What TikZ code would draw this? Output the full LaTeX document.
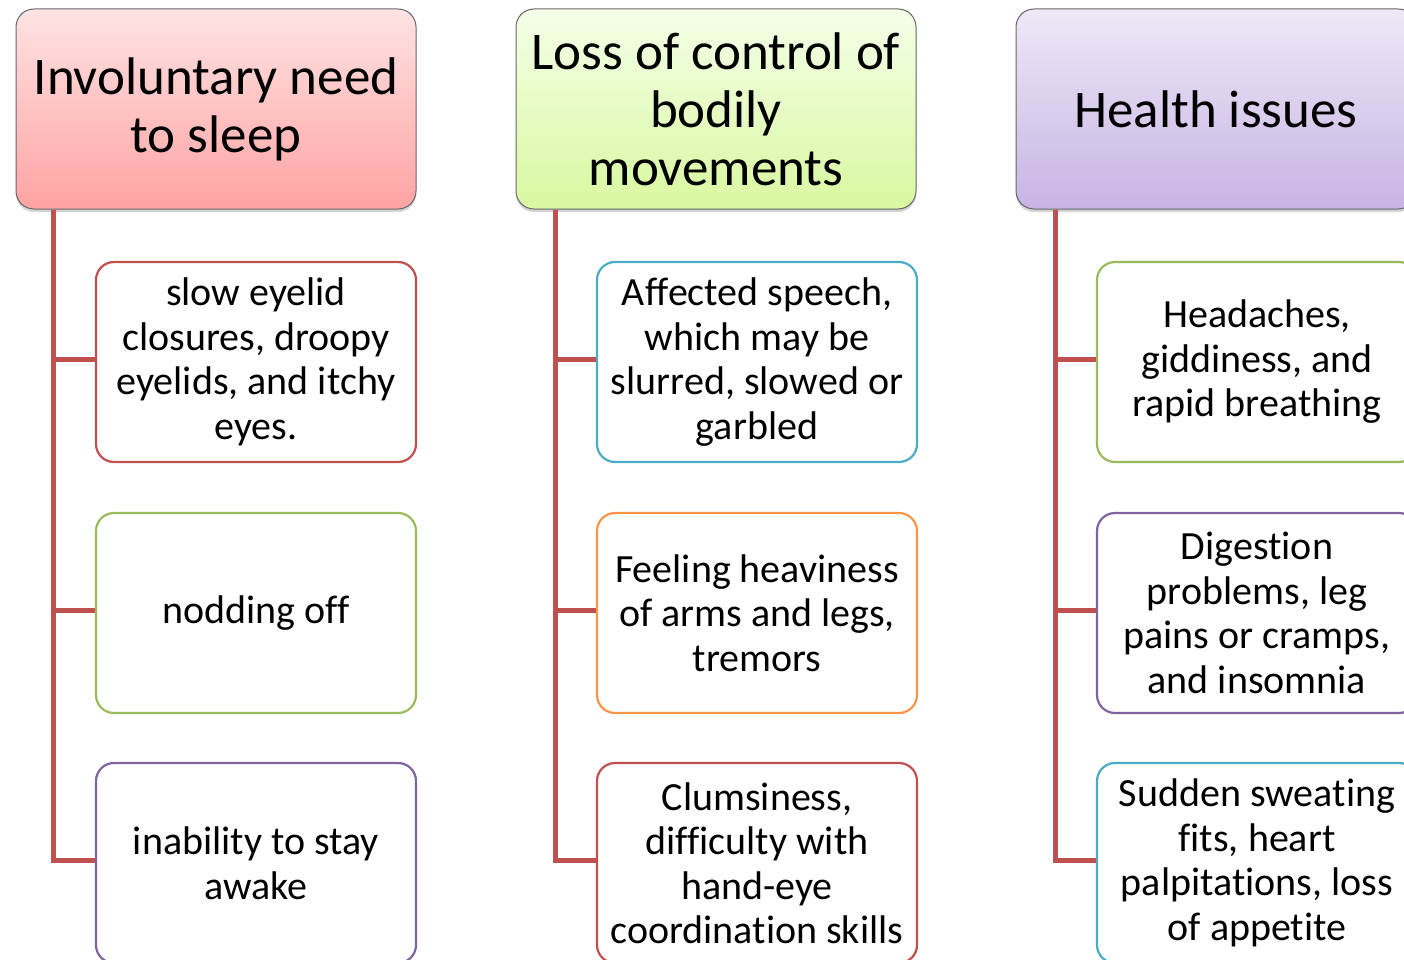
\documentclass[tikz,border=0pt]{standalone}
\usepackage{fontspec}
\setmainfont{Carlito}[Ligatures={NoCommon}]
\usetikzlibrary{shadows,calc}
\definecolor{accred}{HTML}{C0504D}
\definecolor{accgreen}{HTML}{9BBB59}
\definecolor{accpurple}{HTML}{8064A2}
\definecolor{accblue}{HTML}{4BACC6}
\definecolor{accorange}{HTML}{F79646}
\definecolor{pinktop}{HTML}{FFE3E3}
\definecolor{pinkbot}{HTML}{FFA3A3}
\definecolor{greentop}{HTML}{F4FFE8}
\definecolor{greenbot}{HTML}{D8F8A0}
\definecolor{purptop}{HTML}{EEE8F7}
\definecolor{purpbot}{HTML}{C7B4E4}
\tikzset{
  header/.style={draw=black!60, line width=1pt, rounded corners=18pt,
    minimum width=400pt, minimum height=200pt, align=center, inner sep=0pt,
    font=\fontsize{53}{58}\selectfont,
    drop shadow={opacity=0.35, shadow xshift=0pt, shadow yshift=-3pt}},
  childbox/.style={draw=#1, line width=2.2pt, fill=white, rounded corners=18pt,
    minimum width=320pt, minimum height=200pt, align=center, inner sep=0pt,
    font=\fontsize{40}{44.5}\selectfont},
  conn/.style={draw=accred, line width=5pt}
}
\begin{document}
\begin{tikzpicture}[x=1pt,y=-1pt]
\useasboundingbox (0,0) rectangle (1404,960);
\clip (0,0) rectangle (1404,960);
% headers
\node[header, top color=pinktop, bottom color=pinkbot] (h1) at (216,109) {Involuntary need\\to sleep};
\node[header, top color=greentop, bottom color=greenbot] (h2) at (716,109) {Loss of control of\\bodily\\movements};
\node[header, top color=purptop, bottom color=purpbot] (h3) at (1216,109) {Health issues};
% children column 1
\node[childbox=accred] (c11) at (256,362) {slow eyelid\\closures, droopy\\eyelids, and itchy\\eyes.};
\node[childbox=accgreen] (c12) at (256,613) {nodding off};
\node[childbox=accpurple] (c13) at (256,863) {inability to stay\\awake};
% children column 2
\node[childbox=accblue] (c21) at (757,362) {Affected speech,\\which may be\\slurred, slowed or\\garbled};
\node[childbox=accorange] (c22) at (757,613) {Feeling heaviness\\of arms and legs,\\tremors};
\node[childbox=accred] (c23) at (757,863) {Clumsiness,\\difficulty with\\hand-eye\\coordination skills};
% children column 3
\node[childbox=accgreen] (c31) at (1257,362) {Headaches,\\giddiness, and\\rapid breathing};
\node[childbox=accpurple] (c32) at (1257,613) {Digestion\\problems, leg\\pains or cramps,\\and insomnia};
\node[childbox=accblue] (c33) at (1257,863) {Sudden sweating\\fits, heart\\palpitations, loss\\of appetite};
% trunk coordinates
\coordinate (t1) at ($(h1.south west)+(38,0)$);
\coordinate (t2) at ($(h2.south west)+(40,0)$);
\coordinate (t3) at ($(h3.south west)+(40,0)$);
% connectors
\foreach \c in {1,2,3}{
  \foreach \k in {1,2,3}{
    \draw[conn] (t\c) |- ($(c\c\k.west)+(0,-2.5)$);
  }
}
\end{tikzpicture}
\end{document}
